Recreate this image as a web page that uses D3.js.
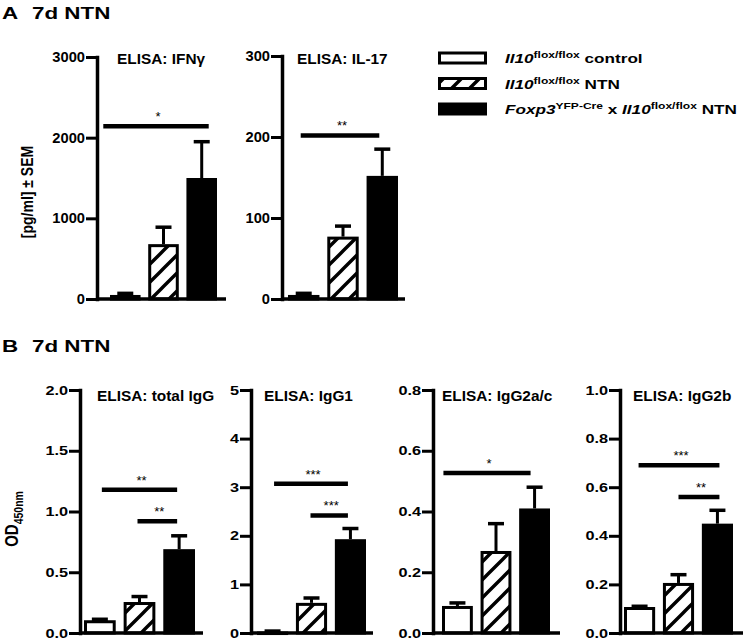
<!DOCTYPE html>
<html><head><meta charset="utf-8">
<script src="https://cdn.jsdelivr.net/npm/d3@7"></script>
<style>
body{margin:0;background:#fff;}
svg{display:block;font-family:"Liberation Sans",Arial,Helvetica,sans-serif;}
</style></head>
<body>
<script>
// ---------- DATA ----------
const groups = ["Il10 flox/flox control", "Il10 flox/flox NTN", "Foxp3 YFP-Cre x Il10 flox/flox NTN"];

const ifngMean = [50, 680, 1500];
const ifngSem  = [20, 210, 450];
const il17Mean = [5, 77, 152];
const il17Sem  = [2, 13, 33];

const totalIgGMean = [0.105, 0.255, 0.69];
const totalIgGSem  = [0.008, 0.045, 0.11];
const igg1Mean = [0.03, 0.62, 1.93];
const igg1Sem  = [0.01, 0.10, 0.22];
const igg2acMean = [0.089, 0.27, 0.41];
const igg2acSem  = [0.01, 0.09, 0.07];
const igg2bMean = [0.107, 0.206, 0.45];
const igg2bSem  = [0.003, 0.034, 0.055];

const ticksIFNg = [0, 1000, 2000, 3000];
const ticksIL17 = [0, 100, 200, 300];
const ticksTotalIgG = [0, 0.5, 1.0, 1.5, 2.0];
const ticksIgG1 = [0, 1, 2, 3, 4, 5];
const ticksIgG2ac = [0, 0.2, 0.4, 0.6, 0.8];
const ticksIgG2b = [0, 0.2, 0.4, 0.6, 0.8, 1.0];

const sigIFNg = [{from: 0, to: 2, y: 2140, label: "*"}];
const sigIL17 = [{from: 0, to: 2, y: 202, label: "**"}];
const sigTotalIgG = [{from: 0, to: 2, y: 1.18, label: "**"}, {from: 1, to: 2, y: 0.92, label: "**"}];
const sigIgG1 = [{from: 0, to: 2, y: 3.07, label: "***"}, {from: 1, to: 2, y: 2.42, label: "***"}];
const sigIgG2ac = [{from: 0, to: 2, y: 0.527, label: "*"}];
const sigIgG2b = [{from: 0, to: 2, y: 0.69, label: "***"}, {from: 1, to: 2, y: 0.56, label: "**"}];

// ---------- LAYOUT ----------
const W = 744, H = 643;
const svg = d3.select("body").append("svg").attr("width", W).attr("height", H);
const defs = svg.append("defs");
const pat = defs.append("pattern").attr("id", "hatch").attr("patternUnits", "userSpaceOnUse")
  .attr("width", 18).attr("height", 18);
pat.append("rect").attr("width", 18).attr("height", 18).attr("fill", "#fff");
pat.append("path").attr("d", "M-4.5,4.5 l9,-9 M0,18 l18,-18 M13.5,22.5 l9,-9")
  .attr("stroke", "#000").attr("stroke-width", 3.4);

const fills = ["#fff", "url(#hatch)", "#000"];

function stretchedText(parent, x, y, txt, size, sx, opts = {}) {
  const t = parent.append("text")
    .attr("transform", `translate(${x},${y}) scale(${sx},1)`)
    .attr("font-size", size).attr("font-weight", opts.weight || "bold")
    .attr("text-anchor", opts.anchor || "start")
    .text(txt);
  return t;
}

function drawPanel(spec, L) {
  const g = svg.append("g");
  const y = d3.scaleLinear().domain([0, spec.max]).range([L.y0, L.yTop]);
  const x = d3.scaleBand().domain(d3.range(spec.mean.length)).range([L.b0, L.b1]).paddingInner(0.2).paddingOuter(0);
  const bw = x.bandwidth();

  // bars
  g.selectAll("rect.bar").data(spec.mean).join("rect").attr("class", "bar")
    .attr("x", (d, i) => x(i) + 1.5)
    .attr("y", d => y(d) + 1.5)
    .attr("width", bw - 3)
    .attr("height", d => Math.max(0.5, L.y0 - y(d) - 1.5))
    .attr("fill", (d, i) => fills[i])
    .attr("stroke", "#000").attr("stroke-width", 3);

  // error bars (upper only)
  spec.mean.forEach((m, i) => {
    const cx = x(i) + bw / 2;
    const yt = y(m + spec.sem[i]);
    g.append("line").attr("x1", cx).attr("x2", cx).attr("y1", y(m)).attr("y2", yt)
      .attr("stroke", "#000").attr("stroke-width", 3);
    g.append("line").attr("x1", cx - 8).attr("x2", cx + 8).attr("y1", yt).attr("y2", yt)
      .attr("stroke", "#000").attr("stroke-width", 3.5);
  });

  // y axis
  const axis = d3.axisLeft(y).tickValues(spec.ticks).tickFormat(spec.fmt)
    .tickSize(11).tickSizeOuter(0).tickPadding(1);
  const ag = g.append("g").attr("transform", `translate(${L.ax},0)`).call(axis);
  ag.select(".domain").attr("stroke-width", 3.5).attr("stroke-linecap", "square");
  ag.selectAll(".tick line").attr("stroke-width", 3);
  ag.selectAll(".tick text")
    .attr("font-size", L.tickSize).attr("font-weight", "bold")
    .attr("font-family", '"Liberation Sans",Arial,sans-serif')
    .attr("fill", "#000")
    .each(function() {
      const t = d3.select(this);
      const xx = +t.attr("x");
      t.attr("x", xx / L.tickSx).attr("transform", `scale(${L.tickSx},1)`);
    });

  // baseline
  g.append("line").attr("x1", L.ax).attr("x2", L.end).attr("y1", L.y0).attr("y2", L.y0)
    .attr("stroke", "#000").attr("stroke-width", 3.5);

  // significance
  spec.sig.forEach((s, k) => {
    const off = L.sigOff[k];
    const x1 = x(s.from) + bw / 2 + off[0];
    const x2 = x(s.to) + bw / 2 + off[1];
    const yy = y(s.y);
    g.append("line").attr("x1", x1).attr("x2", x2).attr("y1", yy).attr("y2", yy)
      .attr("stroke", "#000").attr("stroke-width", 4.5);
    g.append("text").attr("x", (x1 + x2) / 2 + 2).attr("y", yy - 5)
      .attr("text-anchor", "middle").attr("font-size", 13).text(s.label);
  });

  // title
  stretchedText(g, L.titleX, L.titleY, spec.title, 14, 1.1);
}

const fmtInt = d3.format("d");
const fmt1 = d3.format(".1f");

// Panel A
const specsA = [
  {title: "ELISA: IFNγ", mean: ifngMean, sem: ifngSem, max: 3000, ticks: ticksIFNg, fmt: fmtInt, sig: sigIFNg},
  {title: "ELISA: IL-17", mean: il17Mean, sem: il17Sem, max: 300, ticks: ticksIL17, fmt: fmtInt, sig: sigIL17}
];
const layoutA = [
  {ax: 97, end: 226, b0: 110, b1: 217, y0: 299, yTop: 57, titleX: 117, titleY: 64, tickSize: 14, tickSx: 1.05, sigOff: [[-22, 7]]},
  {ax: 282, end: 405, b0: 288, b1: 398, y0: 299, yTop: 56, titleX: 297, titleY: 64, tickSize: 14, tickSx: 1.05, sigOff: [[-3, -3]]}
];
specsA.forEach((s, i) => drawPanel(s, layoutA[i]));

// Panel B
const specsB = [
  {title: "ELISA: total IgG", mean: totalIgGMean, sem: totalIgGSem, max: 2, ticks: ticksTotalIgG, fmt: fmt1, sig: sigTotalIgG},
  {title: "ELISA: IgG1", mean: igg1Mean, sem: igg1Sem, max: 5, ticks: ticksIgG1, fmt: fmtInt, sig: sigIgG1},
  {title: "ELISA: IgG2a/c", mean: igg2acMean, sem: igg2acSem, max: 0.8, ticks: ticksIgG2ac, fmt: fmt1, sig: sigIgG2ac},
  {title: "ELISA: IgG2b", mean: igg2bMean, sem: igg2bSem, max: 1.0, ticks: ticksIgG2b, fmt: fmt1, sig: sigIgG2b}
];
const layoutB = [
  {ax: 80, end: 203, b0: 84, b1: 195, y0: 633, yTop: 390, titleX: 97, titleY: 401, tickSize: 13, tickSx: 1.25, sigOff: [[2, -2], [-2, -2]]},
  {ax: 251, end: 373, b0: 257, b1: 366, y0: 633, yTop: 390, titleX: 264, titleY: 401, tickSize: 13, tickSx: 1.25, sigOff: [[1.5, -2.5], [-1, -2.5]]},
  {ax: 433, end: 560, b0: 442, b1: 550, y0: 633, yTop: 390, titleX: 442, titleY: 401, tickSize: 13, tickSx: 1.25, sigOff: [[-14, -4]]},
  {ax: 620, end: 743, b0: 624, b1: 733, y0: 633, yTop: 390, titleX: 633, titleY: 401, tickSize: 13, tickSx: 1.25, sigOff: [[-1, 2], [0, 2]]}
];
specsB.forEach((s, i) => drawPanel(s, layoutB[i]));

// Panel labels
stretchedText(svg, 2, 19, "A", 16, 1.4);
stretchedText(svg, 32, 19, "7d NTN", 16, 1.4);
stretchedText(svg, 2, 352, "B", 16, 1.4);
stretchedText(svg, 32, 352, "7d NTN", 16, 1.4);

// Y-axis labels
svg.append("text").attr("transform", "translate(33,192) rotate(-90) scale(1,1.2)")
  .attr("text-anchor", "middle").attr("font-size", 14).attr("font-weight", "bold")
  .text("[pg/ml] ± SEM");
const od = svg.append("text").attr("transform", "translate(18,519) rotate(-90) scale(1,1.2)")
  .attr("text-anchor", "middle").attr("font-size", 15).attr("font-weight", "bold");
od.append("tspan").text("OD");
od.append("tspan").attr("font-size", 10.5).attr("dy", 4).text("450nm");

// Legend
const legendRows = [
  [{t: "Il10", i: true}, {t: "flox/flox", sup: true}, {t: " control"}],
  [{t: "Il10", i: true}, {t: "flox/flox", sup: true}, {t: " NTN"}],
  [{t: "Foxp3", i: true}, {t: "YFP-Cre", sup: true}, {t: " x "}, {t: "Il10", i: true}, {t: "flox/flox", sup: true}, {t: " NTN"}]
];
const legendY = d3.scalePoint().domain(d3.range(groups.length)).range([58, 109]);
groups.forEach((gname, i) => {
  const cy = legendY(i);
  svg.append("rect").attr("x", 439.5).attr("y", cy - 5).attr("width", 46).attr("height", 10)
    .attr("fill", fills[i]).attr("stroke", "#000").attr("stroke-width", 3);
  const t = svg.append("text").attr("transform", `translate(505,${cy + 5}) scale(1.27,1)`)
    .attr("font-size", 13.5).attr("font-weight", "bold");
  let raised = false;
  legendRows[i].forEach(p => {
    const ts = t.append("tspan").text(p.t);
    if (p.i) ts.attr("font-style", "italic");
    if (p.sup) { ts.attr("font-size", 9.5).attr("dy", -5); raised = true; }
    else if (raised) { ts.attr("dy", 5); raised = false; }
  });
});
</script>
</body></html>
